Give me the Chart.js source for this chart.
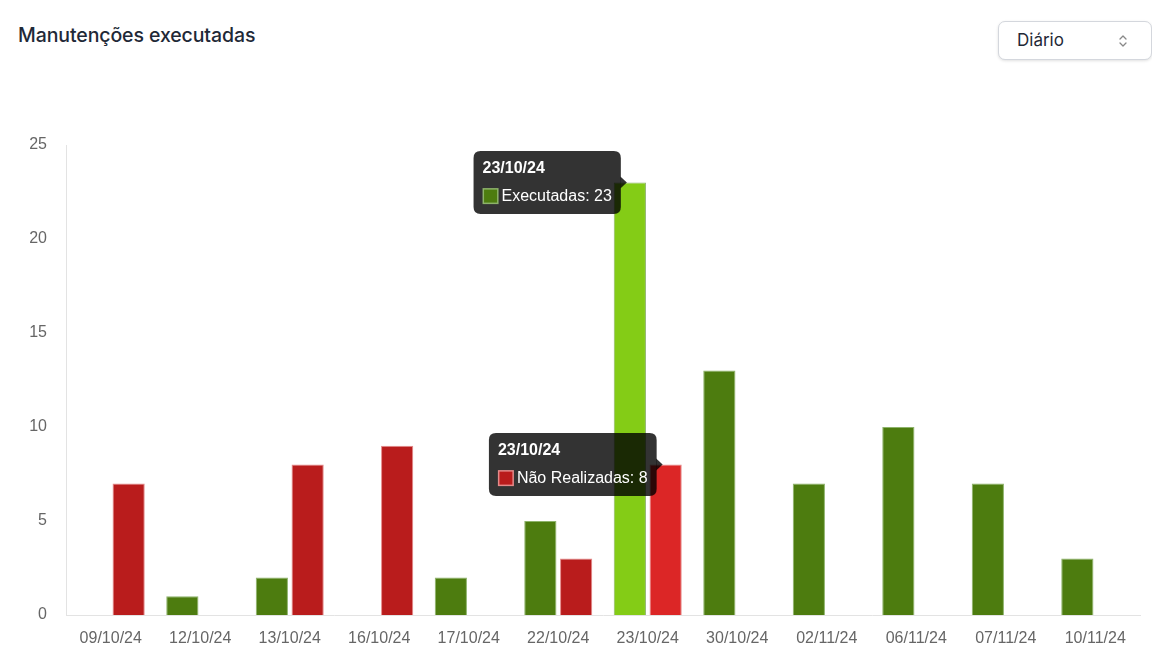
<!DOCTYPE html>
<html>
<head>
<meta charset="utf-8">
<script src="https://cdn.jsdelivr.net/npm/chart.js@4/dist/chart.umd.min.js"></script>
<style>
  html, body { margin: 0; padding: 0; background: #ffffff; width: 1152px; height: 671px; overflow: hidden; }
  #title { position: absolute; left: 18px; top: 23px; font-family: Inter, "Noto Sans", sans-serif; font-size: 19.5px; font-weight: 500; color: #1f2937; letter-spacing: -0.1px; }
  #sel { position: absolute; left: 998px; top: 21px; width: 154px; height: 39px; border: 1px solid #d4d7dd; border-radius: 7px; box-shadow: 0 1px 3px rgba(0,0,0,0.12); background: #fff; box-sizing: border-box; }
  #sel span { position: absolute; left: 18px; top: 8px; font-family: Inter, "Noto Sans", sans-serif; font-size: 17px; color: #1f2937; }
  #sel svg { position: absolute; left: 118px; top: 11px; }
  #wrap { position: absolute; left: 0; top: 0; width: 1152px; height: 671px; }
</style>
</head>
<body>
<div id="title">Manutenções executadas</div>
<div id="sel"><span>Diário</span>
  <svg width="12" height="16" viewBox="0 0 12 16"><path d="M3 6 L6 3 L9 6 M3 10 L6 13 L9 10" fill="none" stroke="#888" stroke-width="1.3" stroke-linecap="round" stroke-linejoin="round"/></svg>
</div>
<div id="wrap"><canvas id="c"></canvas></div>
<script>
const categories = ['09/10/24','12/10/24','13/10/24','16/10/24','17/10/24','22/10/24','23/10/24','30/10/24','02/11/24','06/11/24','07/11/24','10/11/24'];
const executadas = [0, 1, 2, 0, 2, 5, 23, 13, 7, 10, 7, 3];
const naoRealizadas = [7, 0, 8, 9, 0, 3, 8, 0, 0, 0, 0, 0];
const yTicks = [0, 5, 10, 15, 20, 25];
const highlightIndex = 6;

const GREEN = '#4d7c0f', GREEN_HI = '#84cc16', GREEN_BORDER = '#8db36a';
const RED = '#b91c1c', RED_HI = '#dc2626', RED_BORDER = '#e58a8a';

Chart.defaults.font.family = '"Liberation Sans", Arial, sans-serif';
Chart.defaults.font.size = 16;
Chart.defaults.color = '#666';

const tooltipPairs = [
  { datasetIndex: 0, index: highlightIndex },
  { datasetIndex: 1, index: highlightIndex }
];

function roundRect(ctx, x, y, w, h, r) {
  ctx.beginPath();
  ctx.moveTo(x + r, y);
  ctx.lineTo(x + w - r, y);
  ctx.quadraticCurveTo(x + w, y, x + w, y + r);
  ctx.lineTo(x + w, y + h - r);
  ctx.quadraticCurveTo(x + w, y + h, x + w - r, y + h);
  ctx.lineTo(x + r, y + h);
  ctx.quadraticCurveTo(x, y + h, x, y + h - r);
  ctx.lineTo(x, y + r);
  ctx.quadraticCurveTo(x, y, x + r, y);
  ctx.closePath();
}

const dualTooltip = {
  id: 'dualTooltip',
  afterDraw(chart) {
    const ctx = chart.ctx;
    tooltipPairs.forEach(p => {
      const ds = chart.data.datasets[p.datasetIndex];
      const el = chart.getDatasetMeta(p.datasetIndex).data[p.index];
      const title = chart.data.labels[p.index];
      const body = ds.label + ': ' + ds.data[p.index];
      const pad = 9, boxS = 16, gap = 3, caretPad = 3, caret = 6;
      ctx.save();
      ctx.font = '16px "Liberation Sans", Arial, sans-serif';
      const bw = ctx.measureText(body).width;
      ctx.font = 'bold 16px "Liberation Sans", Arial, sans-serif';
      const tw = ctx.measureText(title).width;
      const w = pad * 2 + Math.max(tw, boxS + gap + bw);
      const h = 63;
      const tipX = el.x - caretPad;
      const tipY = el.y;
      const right = tipX - caret;
      const left = right - w;
      const top = tipY - h / 2;
      ctx.fillStyle = 'rgba(0,0,0,0.8)';
      roundRect(ctx, left, top, w, h, 7);
      ctx.fill();
      ctx.beginPath();
      ctx.moveTo(right - 0.5, tipY - caret);
      ctx.lineTo(tipX, tipY);
      ctx.lineTo(right - 0.5, tipY + caret);
      ctx.closePath();
      ctx.fill();
      ctx.fillStyle = '#fff';
      ctx.textBaseline = 'middle';
      ctx.textAlign = 'left';
      ctx.fillText(title, left + pad, top + 17);
      const by = top + 45;
      ctx.fillStyle = ds.borderColor;
      ctx.fillRect(left + pad, by - boxS / 2, boxS, boxS);
      ctx.fillStyle = ds.backgroundColor({ dataIndex: -1 });
      ctx.fillRect(left + pad + 1.5, by - boxS / 2 + 1.5, boxS - 3, boxS - 3);
      ctx.font = '16px "Liberation Sans", Arial, sans-serif';
      ctx.fillStyle = '#fff';
      ctx.fillText(body, left + pad + boxS + gap, by + 0.5);
      ctx.restore();
    });
  }
};

new Chart(document.getElementById('c'), {
  type: 'bar',
  data: {
    labels: categories,
    datasets: [
      {
        label: 'Executadas',
        data: executadas,
        backgroundColor: c => c.dataIndex === highlightIndex ? GREEN_HI : GREEN,
        borderColor: GREEN_BORDER,
        borderWidth: 1
      },
      {
        label: 'Não Realizadas',
        data: naoRealizadas,
        backgroundColor: c => c.dataIndex === highlightIndex ? RED_HI : RED,
        borderColor: RED_BORDER,
        borderWidth: 1
      }
    ]
  },
  options: {
    responsive: true,
    maintainAspectRatio: false,
    animation: false,
    events: [],
    layout: { padding: { top: 145, right: 12, left: 0, bottom: 0 } },
    plugins: {
      legend: { display: false },
      tooltip: { enabled: false }
    },
    scales: {
      x: {
        grid: { display: false, drawTicks: false },
        border: { display: true, color: '#e3e3e3' },
        ticks: { padding: 14, color: '#666', maxRotation: 0, autoSkip: false },
        afterFit: s => { s.height = 56; }
      },
      y: {
        min: 0,
        max: 25,
        grid: { display: false, drawTicks: false },
        border: { display: true, color: '#e3e3e3' },
        afterBuildTicks: s => { s.ticks = yTicks.map(v => ({ value: v })); },
        ticks: { padding: 19, color: '#666' },
        afterFit: s => { s.width = 66; }
      }
    }
  },
  plugins: [dualTooltip]
});
</script>
</body>
</html>
